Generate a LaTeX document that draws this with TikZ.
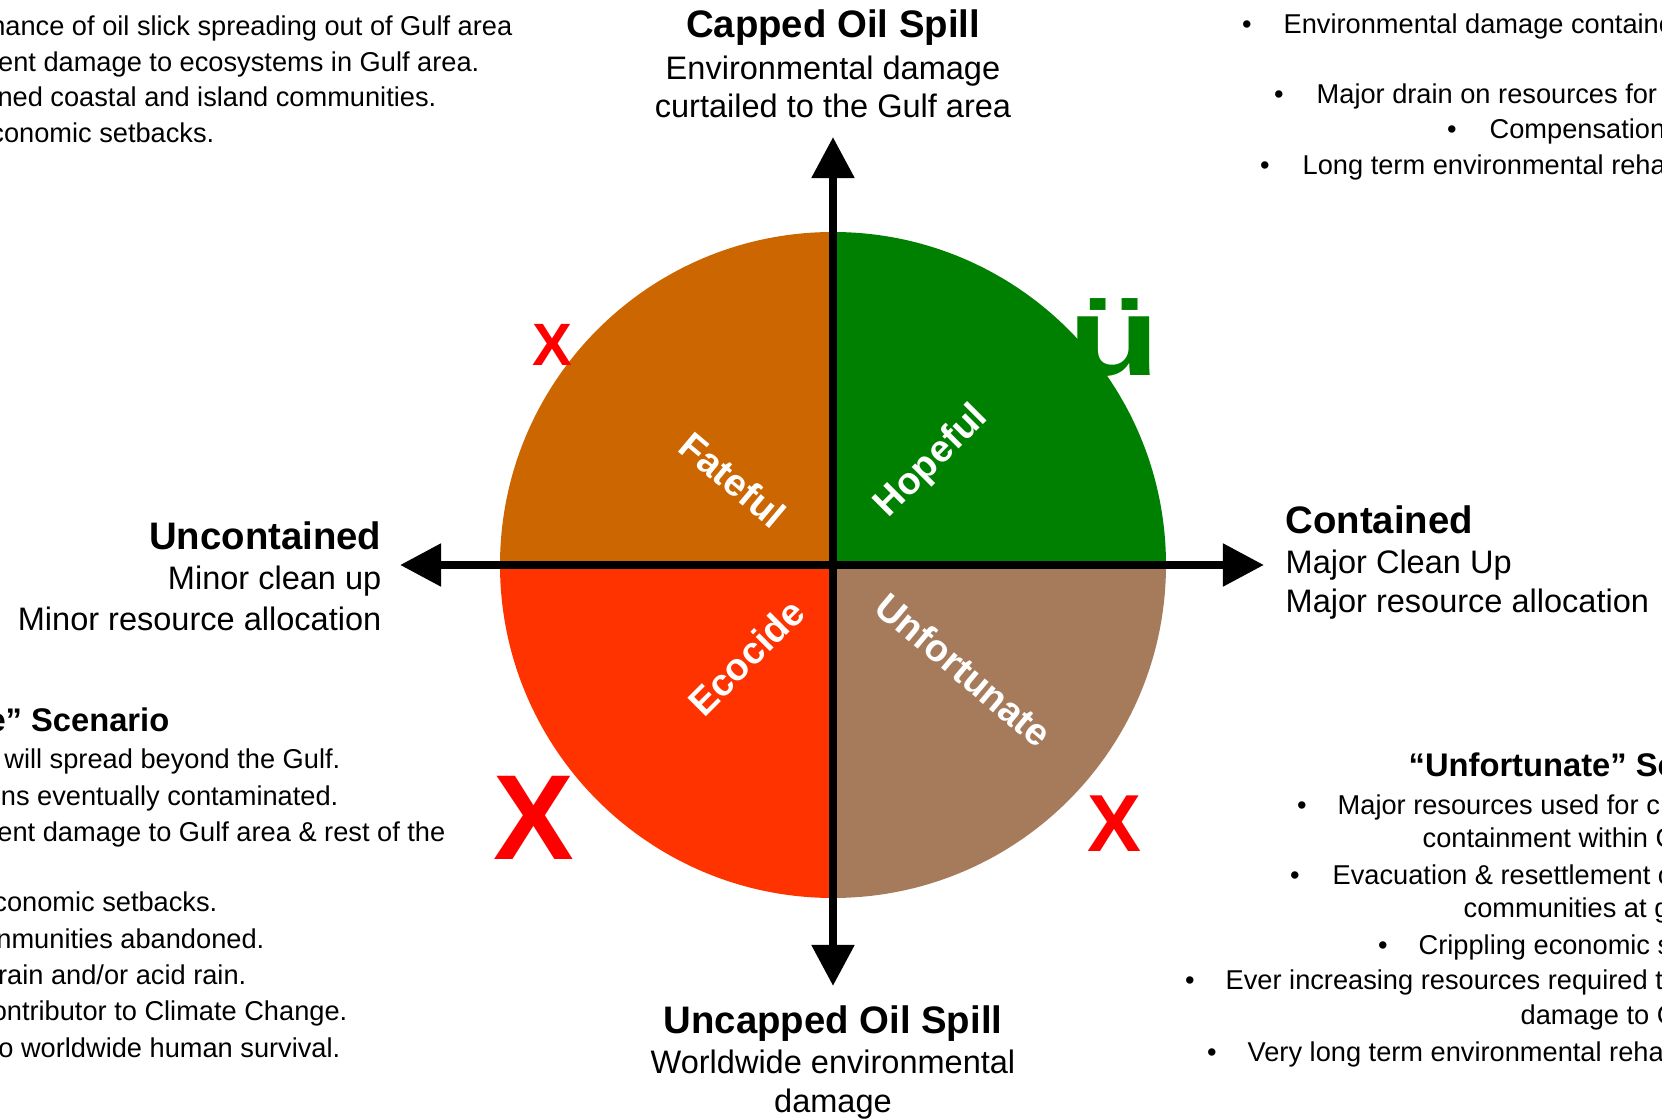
\documentclass[tikz,border=0pt]{standalone}
\usepackage{fontspec}
\setmainfont{Liberation Sans}
\usetikzlibrary{arrows.meta}
\definecolor{fatecol}{HTML}{CC6600}
\definecolor{hopecol}{HTML}{008000}
\definecolor{ecocol}{HTML}{FF3300}
\definecolor{unfortcol}{HTML}{A67B5B}
\definecolor{xred}{HTML}{FF0000}
\begin{document}
\begin{tikzpicture}[x=0.01cm, y=-0.01cm,
  smalltxt/.style={font=\fontsize{7.74}{9}\selectfont, inner sep=0},
  midtxt/.style={font=\fontsize{9.25}{11}\selectfont, inner sep=0},
  headtxt/.style={font=\bfseries\fontsize{9.3}{11}\selectfont, inner sep=0},
  bigtxt/.style={font=\bfseries\fontsize{10.9}{13}\selectfont, inner sep=0},
  quadtxt/.style={font=\bfseries\fontsize{10.8}{12}\selectfont, text=white, inner sep=0},
  xmark/.style={font=\bfseries, text=xred, inner sep=0},
  axisline/.style={line width=2.36pt, -{Triangle[length=0.41cm, width=0.41cm]}}]
\useasboundingbox (0,0) rectangle (1662,1119);
\clip (0,0) rectangle (1662,1119);

\coordinate (o) at (833,565);
\coordinate (up) at (833,137);
\coordinate (down) at (833,986);
\coordinate (left) at (400,565);
\coordinate (right) at (1264,565);

\fill[fatecol] (o) -- ++(-333,0) arc[start angle=180, end angle=270, radius=333] -- cycle;
\fill[hopecol] (o) -- ++(333,0) arc[start angle=0, end angle=-90, radius=333] -- cycle;
\fill[unfortcol] (o) -- ++(333,0) arc[start angle=0, end angle=90, radius=333] -- cycle;
\fill[ecocol] (o) -- ++(-333,0) arc[start angle=180, end angle=90, radius=333] -- cycle;

\draw[axisline] (o) -- (up);
\draw[axisline] (o) -- (down);
\draw[axisline] (o) -- (left);
\draw[axisline] (o) -- (right);

\node[quadtxt, rotate=-40] (fateful) at (733,480) {Fateful};
\node[quadtxt, rotate=45] (hopeful) at (932,462) {Hopeful};
\node[quadtxt, rotate=45] (ecocide) at (746,657) {Ecocide};
\node[quadtxt, rotate=-40] (unfortunate) at (964,670) {Unfortunate};

\node[xmark, font=\bfseries\fontsize{17}{17}\selectfont] (x1) at (552,345) {X};
\node[xmark, font=\bfseries\fontsize{34.4}{34}\selectfont] (x2) at (534,818) {X};
\node[xmark, font=\bfseries\fontsize{23}{23}\selectfont] (x3) at (1114,824) {X};
\node[font=\bfseries\fontsize{31.6}{32}\selectfont, text=hopecol, inner sep=0, xscale=1.35, anchor=base east] (tick) at (1161,376) {ü};

\node[bigtxt, anchor=base] (capped) at (833,38) {Capped Oil Spill};
\node[midtxt, anchor=base] (capped2) at (833,80) {Environmental damage};
\node[midtxt, anchor=base] (capped3) at (833,118) {curtailed to the Gulf area};

\node[bigtxt, anchor=base] (uncapped) at (833,1034) {Uncapped Oil Spill};
\node[midtxt, anchor=base] (uncapped2) at (833,1074) {Worldwide environmental};
\node[midtxt, anchor=base] (uncapped3) at (833,1113) {damage};

\node[bigtxt, anchor=base east] (uncont) at (382,550) {Uncontained};
\node[midtxt, anchor=base east] (uncont2) at (382,590) {Minor clean up};
\node[midtxt, anchor=base east] (uncont3) at (382,631) {Minor resource allocation};

\node[bigtxt, anchor=base west] (cont) at (1285,534) {Contained};
\node[midtxt, anchor=base west] (cont2) at (1285,574) {Major Clean Up};
\node[midtxt, anchor=base west] (cont3) at (1285,613) {Major resource allocation};

\node[smalltxt, anchor=base east] (fate1) at (513,36) {hance of oil slick spreading out of Gulf area};
\node[smalltxt, anchor=base east] (fate2) at (480,72) {ent damage to ecosystems in Gulf area.};
\node[smalltxt, anchor=base east] (fate3) at (437,107) {ned coastal and island communities.};
\node[smalltxt, anchor=base east] (fate4) at (215,143) {conomic setbacks.};

\node[smalltxt, anchor=base] (hb1) at (1247,34) {•};
\node[smalltxt, anchor=base west] (hope1) at (1283,34) {Environmental damage containe};
\node[smalltxt, anchor=base] (hb2) at (1279,104) {•};
\node[smalltxt, anchor=base west] (hope2) at (1316,104) {Major drain on resources for};
\node[smalltxt, anchor=base] (hb3) at (1452,139) {•};
\node[smalltxt, anchor=base west] (hope3) at (1489,139) {Compensation};
\node[smalltxt, anchor=base] (hb4) at (1265,175) {•};
\node[smalltxt, anchor=base west] (hope4) at (1302,175) {Long term environmental reha};

\node[headtxt, anchor=base east] (ecohead) at (170,732) {e” Scenario};
\node[smalltxt, anchor=base east] (eco1) at (341,769) {will spread beyond the Gulf.};
\node[smalltxt, anchor=base east] (eco2) at (339,806) {ns eventually contaminated.};
\node[smalltxt, anchor=base east] (eco3) at (446,842) {ent damage to Gulf area \& rest of the};
\node[smalltxt, anchor=base east] (eco4) at (218,912) {conomic setbacks.};
\node[smalltxt, anchor=base east] (eco5) at (265,949) {nmunities abandoned.};
\node[smalltxt, anchor=base east] (eco6) at (247,985) {rain and/or acid rain.};
\node[smalltxt, anchor=base east] (eco7) at (348,1021) {ontributor to Climate Change.};
\node[smalltxt, anchor=base east] (eco8) at (341,1058) {o worldwide human survival.};

\node[headtxt, anchor=base west] (unhead) at (1408,777) {“Unfortunate” Sc};
\node[smalltxt, anchor=base] (ub1) at (1302,815) {•};
\node[smalltxt, anchor=base west] (un1) at (1337,815) {Major resources used for c};
\node[smalltxt, anchor=base west] (un1b) at (1422,848) {containment within G};
\node[smalltxt, anchor=base] (ub2) at (1295,885) {•};
\node[smalltxt, anchor=base west] (un2) at (1332,885) {Evacuation \& resettlement o};
\node[smalltxt, anchor=base west] (un2b) at (1463,918) {communities at g};
\node[smalltxt, anchor=base] (ub3) at (1383,955) {•};
\node[smalltxt, anchor=base west] (un3) at (1418,955) {Crippling economic s};
\node[smalltxt, anchor=base] (ub4) at (1190,990) {•};
\node[smalltxt, anchor=base west] (un4) at (1225,990) {Ever increasing resources required t};
\node[smalltxt, anchor=base west] (un4b) at (1520,1025) {damage to G};
\node[smalltxt, anchor=base] (ub5) at (1212,1062) {•};
\node[smalltxt, anchor=base west] (un5) at (1247,1062) {Very long term environmental reha};
\end{tikzpicture}
\end{document}
